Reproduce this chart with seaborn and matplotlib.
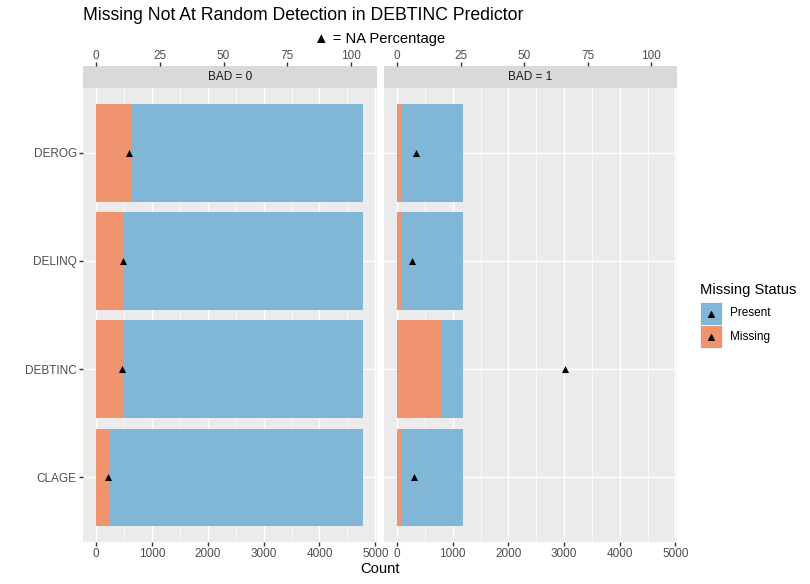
import matplotlib
matplotlib.use("Agg")
import matplotlib.pyplot as plt
from matplotlib.patches import Rectangle
from matplotlib.ticker import MultipleLocator, FixedLocator
import pandas as pd
import seaborn as sns

predictors = ["DEROG", "DELINQ", "DEBTINC", "CLAGE"]
bad_groups = ["BAD = 0", "BAD = 1"]
group_totals = [4771, 1189]
missing_bad0 = [621, 508, 481, 230]
missing_bad1 = [87, 72, 786, 78]
pct_ticks = [0, 25, 50, 75, 100]
count_ticks = [0, 1000, 2000, 3000, 4000, 5000]
legend_labels = ["Present", "Missing"]

PCT_SCALE = 45.65  # count units per NA percent (top axis)

BLUE = "#80B7D6"
ORANGE = "#F09470"
TXT = "#4D4D4D"
TICK = "#333333"
SMALL = 11.7
BIG = 14.7

rows = []
for grp, total, miss in zip(bad_groups, group_totals, [missing_bad0, missing_bad1]):
    for i, (p, m) in enumerate(zip(predictors, miss)):
        rows.append({"group": grp, "predictor": p, "pos": i, "total": total,
                     "missing": m, "pct": 100 * m / total})
df = pd.DataFrame(rows)
df["pct_x"] = df["pct"] * PCT_SCALE

sns.set_theme(style="darkgrid", rc={
    "axes.facecolor": "#EBEBEB",
    "grid.color": "white",
    "axes.edgecolor": "none",
})
fams = ["Liberation Sans", "DejaVu Sans"]
plt.rcParams["font.family"] = fams

W, H = 810, 584
fig = plt.figure(figsize=(W / 72, H / 72), dpi=72)

panel_x = [(83, 377), (384, 677)]
ptop, pbot = 88, 542
strip_top = 66
xlim = (-235, 5030)

for k, grp in enumerate(bad_groups):
    x0, x1 = panel_x[k]
    ax = fig.add_axes([x0 / W, 1 - pbot / H, (x1 - x0) / W, (pbot - ptop) / H])
    sub = df[df["group"] == grp]
    sns.barplot(data=sub, x="total", y="predictor", order=predictors, color=BLUE,
                saturation=1, width=0.9, orient="h", ax=ax, errorbar=None, linewidth=0)
    sns.barplot(data=sub, x="missing", y="predictor", order=predictors, color=ORANGE,
                saturation=1, width=0.9, orient="h", ax=ax, errorbar=None, linewidth=0)
    sns.scatterplot(data=sub, x="pct_x", y="pos", marker="^", color="black", s=50,
                    linewidth=0, ax=ax, legend=False, zorder=5)
    ax.set_xlim(*xlim)
    ax.set_ylim(3.6, -0.6)
    ax.set_xlabel("")
    ax.set_ylabel("")
    ax.xaxis.set_major_locator(FixedLocator(count_ticks))
    ax.xaxis.set_minor_locator(MultipleLocator(500))
    ax.grid(which="major", color="white", linewidth=1.45)
    ax.grid(which="minor", axis="x", color="white", linewidth=0.7)
    ax.set_axisbelow(True)
    ax.set_xticklabels([str(t) for t in count_ticks])
    ax.tick_params(axis="x", which="major", bottom=True, length=3.7, width=1.4,
                   color=TICK, labelsize=SMALL, labelcolor=TXT, pad=2.5)
    ax.tick_params(axis="x", which="minor", bottom=False)
    if k == 0:
        ax.tick_params(axis="y", left=True, length=3.7, width=1.4, color=TICK,
                       labelsize=SMALL, labelcolor=TXT, pad=2.5)
    else:
        ax.tick_params(axis="y", left=False, labelleft=False)
    for s in ax.spines.values():
        s.set_visible(False)

    # strip with top (percentage) axis
    sax = fig.add_axes([x0 / W, 1 - ptop / H, (x1 - x0) / W, (ptop - strip_top) / H])
    sax.set_facecolor("#D9D9D9")
    sax.grid(False)
    sax.set_xlim(*xlim)
    sax.set_ylim(0, 1)
    sax.set_yticks([])
    sax.xaxis.tick_top()
    sax.set_xticks([p * PCT_SCALE for p in pct_ticks])
    sax.set_xticklabels([str(p) for p in pct_ticks])
    sax.tick_params(axis="x", top=True, bottom=False, length=3.7, width=1.4,
                    color=TICK, labelsize=SMALL, labelcolor=TXT, pad=0.6)
    for s in sax.spines.values():
        s.set_visible(False)
    sax.text(0.5, 0.5, grp, transform=sax.transAxes, ha="center", va="center",
             fontsize=SMALL, color="#1A1A1A")

fig.text(83 / W, 1 - 15 / H, "Missing Not At Random Detection in DEBTINC Predictor",
         ha="left", va="center", fontsize=17.6, color="black")
fig.text(380 / W, 1 - 39 / H, "\u25b2 = NA Percentage", ha="center", va="center",
         fontsize=BIG, color="black", family=fams)
fig.text(380 / W, 1 - 569 / H, "Count", ha="center", va="center", fontsize=BIG,
         color="black")

# legend drawn in pixel coordinates
lax = fig.add_axes([0, 0, 1, 1], facecolor="none")
lax.set_xlim(0, W)
lax.set_ylim(H, 0)
lax.axis("off")
lax.text(700, 290, "Missing Status", ha="left", va="center", fontsize=BIG, color="black")
for j, (lab, col) in enumerate(zip(legend_labels, [BLUE, ORANGE])):
    ky = 302 + j * 23.3
    lax.add_patch(Rectangle((700, ky), 22, 23, facecolor=col, edgecolor="#F2F2F2",
                            linewidth=1))
    lax.plot(711, ky + 11.5, marker="^", color="black", markersize=6.5, linestyle="None")
    lax.text(730, ky + 11.5, lab, ha="left", va="center", fontsize=SMALL, color="black")

fig.savefig("out.png", dpi=72)
